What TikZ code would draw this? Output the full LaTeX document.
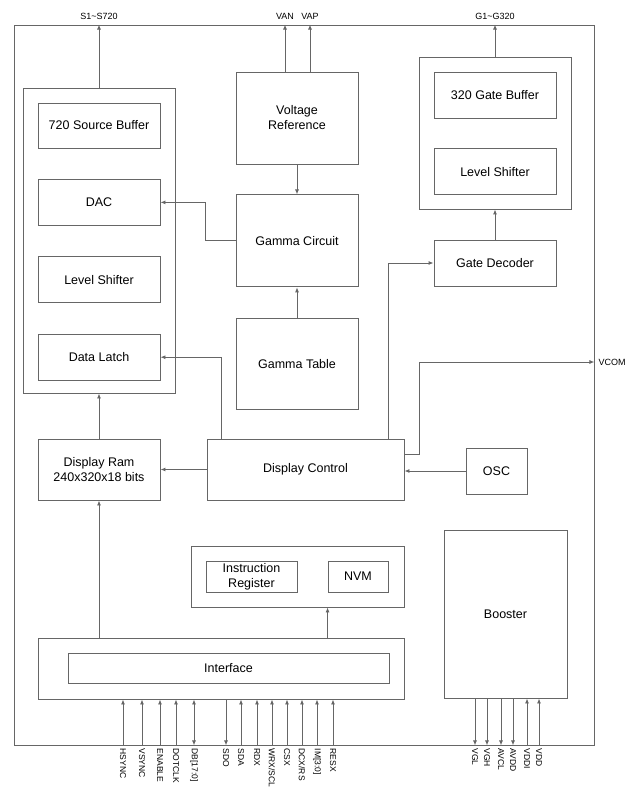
\documentclass[tikz,border=0pt]{standalone}
\usepackage{fontspec}
\setmainfont{Liberation Sans}
\usetikzlibrary{positioning,arrows.meta}

\begin{document}
\begin{tikzpicture}[
    x=1pt, y=-1pt,
    >={Latex[length=5pt,width=4pt]},
    node distance=30.5pt,
    grp/.style={rectangle, draw=black!60, line width=0.9pt, inner sep=0pt},
    blk/.style={grp, minimum width=122pt, minimum height=46pt, align=center,
        font=\fontsize{12.5}{15}\selectfont},
    wire/.style={draw=black!60, line width=0.9pt, ->},
    sig/.style={font=\fontsize{9}{10}\selectfont, inner sep=1pt},
    pinlbl/.style={font=\fontsize{8.5}{10}\selectfont, rotate=-90, anchor=west, inner sep=0pt}
]
    \useasboundingbox (0,0) rectangle (630,799);

    % chip outline
    \node[grp, minimum width=580pt, minimum height=720pt] (chip) at (304,385) {};

    % source driver
    \node[grp, minimum width=152pt, minimum height=305pt] (srcgrp) at (99,240.5) {};
    \node[blk, minimum height=45pt] (srcbuf) at (99,125.5) {720 Source Buffer};
    \node[blk, below=of srcbuf] (dac) {DAC};
    \node[blk, below=of dac] (srcls) {Level Shifter};
    \node[blk, below=of srcls] (latch) {Data Latch};

    % gamma
    \node[blk, minimum height=92pt] (vref) at (297,118) {Voltage\\Reference};
    \node[blk, minimum height=92pt, below=30pt of vref] (gamma) {Gamma Circuit};
    \node[blk, minimum height=91pt, below=31pt of gamma] (gtable) {Gamma Table};

    % gate driver
    \node[grp, minimum width=152pt, minimum height=152pt] (gategrp) at (495,133) {};
    \node[blk] (gatebuf) at (495,95) {320 Gate Buffer};
    \node[blk, below=30pt of gatebuf] (gatels) {Level Shifter};
    \node[blk] (gatedec) at (495,263) {Gate Decoder};

    % control
    \node[blk, minimum height=61pt] (ram) at (99,469.5) {Display Ram\\240x320x18 bits};
    \node[blk, minimum width=197pt, minimum height=61pt] (ctrl) at (305.5,469.5) {Display Control};
    \node[blk, minimum width=61pt] (osc) at (496.5,471) {OSC};

    % instruction
    \node[grp, minimum width=213pt, minimum height=61pt] (instgrp) at (297.5,576.5) {};
    \node[blk, minimum width=91pt, minimum height=31pt,
        font=\fontsize{12.5}{15}\selectfont] (instr) at (251.5,576.5) {Instruction\\Register};
    \node[blk, minimum width=60pt, minimum height=31pt] (nvm) at (358,576.5) {NVM};

    % interface
    \node[grp, minimum width=366pt, minimum height=61pt] (ifgrp) at (221,668.5) {};
    \node[blk, minimum width=321pt, minimum height=30pt] (iface) at (228.5,668) {Interface};

    \node[blk, minimum width=123pt, minimum height=168pt] (booster) at (505.5,614) {Booster};

    % outputs
    \draw[wire] (srcgrp.north) -- (srcgrp.north |- chip.north);
    \draw[wire] ([xshift=-12pt]vref.north) -- ([xshift=-12pt]vref.north |- chip.north);
    \draw[wire] ([xshift=13pt]vref.north) -- ([xshift=13pt]vref.north |- chip.north);
    \draw[wire] (gategrp.north) -- (gategrp.north |- chip.north);
    \node[sig, above=4pt] (lsrc) at (srcgrp.north |- chip.north) {S1\textasciitilde S720};
    \node[sig, above=4pt] (lvan) at ([xshift=-12pt]vref.north |- chip.north) {VAN};
    \node[sig, above=4pt] (lvap) at ([xshift=13pt]vref.north |- chip.north) {VAP};
    \node[sig, above=4pt] (lgate) at (gategrp.north |- chip.north) {G1\textasciitilde G320};

    % internal connections
    \draw[wire] (vref) -- (gamma);
    \draw[wire] (gtable) -- (gamma);
    \draw[wire] (gamma.west) -- ++(-30,0) |- (dac.east);
    \draw[wire] (gatedec) -- (gategrp);
    \draw[wire] (ram) -- (srcgrp);
    \draw[wire] (ctrl) -- (ram);
    \draw[wire] (osc.west) -- (osc.west -| ctrl.east);
    \draw[wire] ([xshift=-84.5pt]ctrl.north) |- (latch.east);
    \draw[wire] ([xshift=82.5pt]ctrl.north) |- (gatedec.west);
    \coordinate (vcom) at (chip.east |- 0,362);
    \draw[wire] ([yshift=15.5pt]ctrl.east) -- ++(15,0) |- (vcom);
    \node[sig, anchor=west] (lvcom) at ([xshift=3pt]vcom) {VCOM};
    \draw[wire] (ifgrp.north -| ram.south) -- (ram.south);
    \draw[wire] (ifgrp.north -| nvm.west) -- (instgrp.south -| nvm.west);

    % input pins
    \foreach \x/\pin in {123/HSYNC,142/VSYNC,160/ENABLE,176/DOTCLK,241/SDA,257/RDX,
        272/{WRX/SCL},287/CSX,302/{DCX/RS},317/{IM[3:0]},333/RESX}
    {
        \coordinate (p\x) at (chip.south -| \x,0);
        \draw[wire] (p\x) -- (ifgrp.south -| p\x);
        \node[pinlbl] at ([yshift=-3pt]p\x) {\pin};
    }
    \coordinate (pdb) at (chip.south -| 194,0);
    \draw[wire, <->] (pdb) -- (ifgrp.south -| pdb);
    \node[pinlbl] at ([yshift=-3pt]pdb) {DB[17:0]};
    \coordinate (psdo) at (chip.south -| 226,0);
    \draw[wire] (ifgrp.south -| psdo) -- (psdo);
    \node[pinlbl] at ([yshift=-3pt]psdo) {SDO};

    % power pins
    \foreach \x/\pin in {475/VGL,487/VGH,501/AVCL,513/AVDD}
    {
        \coordinate (b\x) at (chip.south -| \x,0);
        \draw[wire] (booster.south -| b\x) -- (b\x);
        \node[pinlbl] at ([yshift=-3pt]b\x) {\pin};
    }
    \foreach \x/\pin in {527/VDDI,539/VDD}
    {
        \coordinate (b\x) at (chip.south -| \x,0);
        \draw[wire] (b\x) -- (booster.south -| b\x);
        \node[pinlbl] at ([yshift=-3pt]b\x) {\pin};
    }
\end{tikzpicture}
\end{document}
